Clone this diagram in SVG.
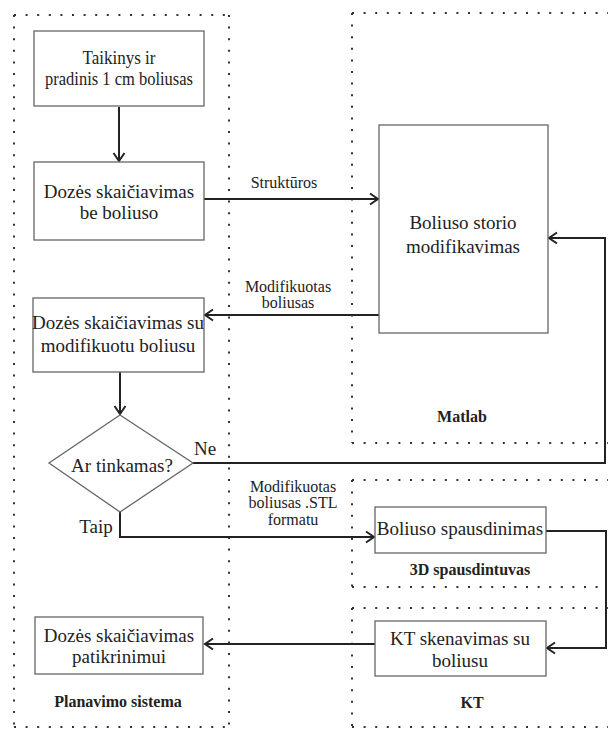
<svg xmlns="http://www.w3.org/2000/svg" width="608" height="729" viewBox="0 0 608 729">
<defs>
<marker id="arr" markerWidth="12" markerHeight="14" refX="10" refY="7" orient="auto" markerUnits="userSpaceOnUse">
<path d="M2,1.5 L10,7 L2,12.5" fill="none" stroke="#222" stroke-width="2"/>
</marker>
</defs>
<style>
.box{fill:#fff;stroke:#666;stroke-width:1.3}
.dot{fill:none;stroke:#333;stroke-width:2;stroke-dasharray:2 9.6}
.con{fill:none;stroke:#222;stroke-width:2}
text{font-family:'Liberation Serif','Times New Roman',serif;fill:#222;text-anchor:middle}
.t{font-size:19px}
.t2{font-size:18px}
.s{font-size:16px}
.b{font-size:16px;font-weight:bold}
</style>
<g id="regions">
<path class="dot" d="M14,15 H229 M14,15 V727 M229,15 V727 M14,727 H229"/>
<path class="dot" d="M352,13 H608 M352,13 V443 M352,443 H608"/>
<path class="dot" d="M352,480 H608 M352,480 V587 M352,587 H604"/>
<path class="dot" d="M352,608 H608 M352,608 V729 M352,727 H608"/>
<text class="b" x="118" y="707">Planavimo sistema</text>
<text class="b" x="462" y="422">Matlab</text>
<text class="b" x="470" y="575">3D spausdintuvas</text>
<text class="b" x="472" y="708">KT</text>
</g>
<g id="connectors">
<path class="con" d="M119,107 V161" marker-end="url(#arr)"/>
<path class="con" d="M204,199 H378" marker-end="url(#arr)"/>
<path class="con" d="M379,315 H205" marker-end="url(#arr)"/>
<path class="con" d="M120,372 V414" marker-end="url(#arr)"/>
<path class="con" d="M193,463 H605 V238 H549" marker-end="url(#arr)"/>
<path class="con" d="M120,512 V537 H374" marker-end="url(#arr)"/>
<path class="con" d="M546,531 H606 V648 H547" marker-end="url(#arr)"/>
<path class="con" d="M375,644 H205" marker-end="url(#arr)"/>
<text class="s" x="284" y="188">Struktūros</text>
<text class="s" x="288" y="292">Modifikuotas</text>
<text class="s" x="288" y="308">boliusas</text>
<text class="t" x="205" y="455">Ne</text>
<text class="t" x="96" y="533">Taip</text>
<text class="s" x="293" y="492">Modifikuotas</text>
<text class="s" x="293" y="508">boliusas .STL</text>
<text class="s" x="293" y="525">formatu</text>
</g>
<g id="n1">
<rect class="box" x="34" y="31" width="170" height="75"/>
<text class="t2" x="119" y="64" textLength="73" lengthAdjust="spacingAndGlyphs">Taikinys ir</text>
<text class="t2" x="119" y="85" textLength="148" lengthAdjust="spacingAndGlyphs">pradinis 1 cm boliusas</text>
</g>
<g id="n2">
<rect class="box" x="34" y="162" width="170" height="78"/>
<text class="t" x="119" y="198">Dozės skaičiavimas</text>
<text class="t" x="119" y="219">be boliuso</text>
</g>
<g id="n3">
<rect class="box" x="379" y="125" width="169" height="208"/>
<text class="t" x="463" y="229">Boliuso storio</text>
<text class="t" x="463" y="253">modifikavimas</text>
</g>
<g id="n4">
<rect class="box" x="33" y="298" width="171" height="74"/>
<text class="t" x="118" y="329">Dozės skaičiavimas su</text>
<text class="t" x="118" y="352">modifikuotu boliusu</text>
</g>
<g id="n5">
<path class="box" d="M120,415 L193,463 L120,512 L49,463 Z"/>
<text class="t" x="122" y="472">Ar tinkamas?</text>
</g>
<g id="n6">
<rect class="box" x="375" y="507" width="171" height="46"/>
<text class="t" x="460" y="535">Boliuso spausdinimas</text>
</g>
<g id="n7">
<rect class="box" x="375" y="621" width="171" height="55"/>
<text class="t" x="460" y="645">KT skenavimas su</text>
<text class="t" x="460" y="667">boliusu</text>
</g>
<g id="n8">
<rect class="box" x="35" y="617" width="168" height="57"/>
<text class="t" x="119" y="642">Dozės skaičiavimas</text>
<text class="t" x="119" y="663">patikrinimui</text>
</g>
</svg>
